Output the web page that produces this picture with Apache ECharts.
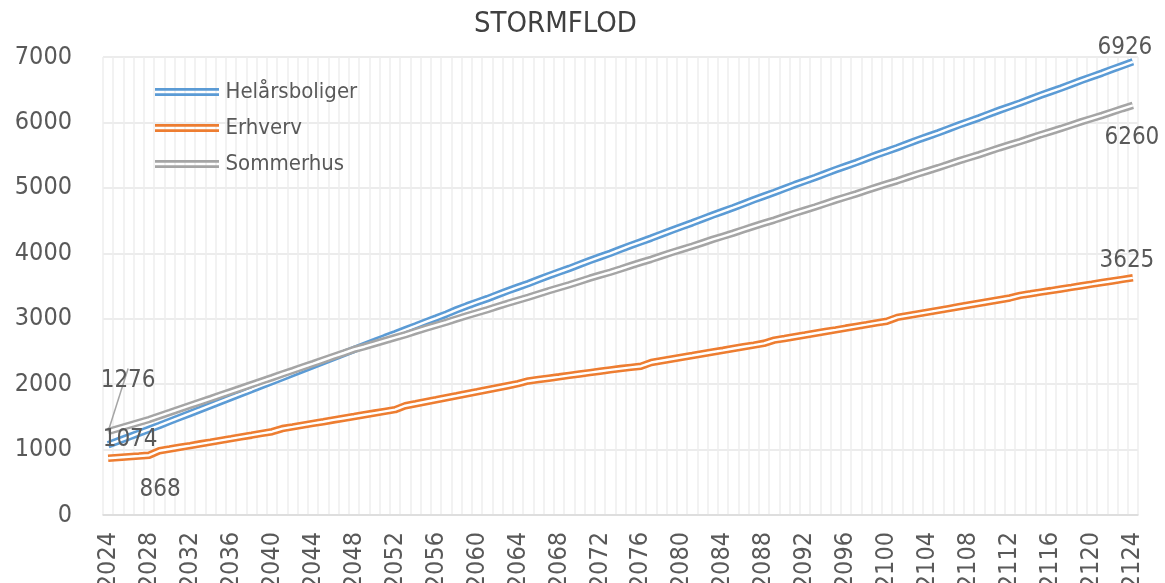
<!DOCTYPE html>
<html>
<head>
<meta charset="utf-8">
<title>Stormflod</title>
<script src="https://cdn.jsdelivr.net/npm/echarts@6/dist/echarts.min.js"></script>
<style>
html, body { margin: 0; padding: 0; background: #fff; }
#chart { width: 1165px; height: 583px; }
</style>
</head>
<body>
<div id="chart"></div>
<script>
// years on the category axis
var years = [
    '2024', '2025', '2026', '2027', '2028', '2029', '2030', '2031', '2032', '2033',
    '2034', '2035', '2036', '2037', '2038', '2039', '2040', '2041', '2042', '2043',
    '2044', '2045', '2046', '2047', '2048', '2049', '2050', '2051', '2052', '2053',
    '2054', '2055', '2056', '2057', '2058', '2059', '2060', '2061', '2062', '2063',
    '2064', '2065', '2066', '2067', '2068', '2069', '2070', '2071', '2072', '2073',
    '2074', '2075', '2076', '2077', '2078', '2079', '2080', '2081', '2082', '2083',
    '2084', '2085', '2086', '2087', '2088', '2089', '2090', '2091', '2092', '2093',
    '2094', '2095', '2096', '2097', '2098', '2099', '2100', '2101', '2102', '2103',
    '2104', '2105', '2106', '2107', '2108', '2109', '2110', '2111', '2112', '2113',
    '2114', '2115', '2116', '2117', '2118', '2119', '2120', '2121', '2122', '2123',
    '2124'
];

var helaarsboliger = [
    1074, 1133, 1192, 1251, 1310, 1369, 1431, 1492, 1553, 1613,
    1675, 1736, 1797, 1857, 1918, 1980, 2040, 2101, 2163, 2224,
    2285, 2346, 2408, 2469, 2530, 2590, 2650, 2711, 2770, 2830,
    2890, 2951, 3010, 3070, 3136, 3196, 3252, 3307, 3367, 3427,
    3483, 3538, 3598, 3658, 3714, 3769, 3829, 3889, 3945, 4000,
    4060, 4120, 4176, 4232, 4292, 4352, 4409, 4465, 4525, 4585,
    4641, 4697, 4757, 4817, 4874, 4930, 4990, 5049, 5104, 5159,
    5218, 5277, 5332, 5387, 5446, 5505, 5559, 5614, 5673, 5732,
    5787, 5842, 5901, 5960, 6015, 6070, 6129, 6188, 6243, 6298,
    6357, 6416, 6471, 6526, 6585, 6644, 6699, 6754, 6813, 6870,
    6926
];

var erhverv = [
    868, 879, 890, 901, 914, 982, 1008, 1035, 1061, 1088,
    1114, 1141, 1167, 1194, 1220, 1247, 1273, 1321, 1347, 1374,
    1400, 1426, 1453, 1479, 1505, 1532, 1558, 1584, 1610, 1670,
    1700, 1731, 1761, 1792, 1822, 1853, 1883, 1914, 1945, 1976,
    2007, 2049, 2070, 2091, 2112, 2134, 2155, 2176, 2197, 2218,
    2238, 2256, 2274, 2330, 2357, 2384, 2411, 2437, 2464, 2491,
    2517, 2544, 2571, 2597, 2624, 2672, 2698, 2725, 2751, 2778,
    2804, 2830, 2857, 2883, 2909, 2936, 2962, 3020, 3047, 3074,
    3101, 3128, 3155, 3182, 3209, 3236, 3263, 3290, 3317, 3357,
    3381, 3406, 3430, 3455, 3479, 3504, 3528, 3553, 3577, 3601,
    3625
];

var sommerhus = [
    1276, 1322, 1368, 1414, 1460, 1514, 1567, 1621, 1674, 1727,
    1780, 1834, 1887, 1940, 1994, 2047, 2100, 2155, 2208, 2262,
    2315, 2369, 2423, 2476, 2530, 2572, 2618, 2665, 2710, 2755,
    2805, 2854, 2900, 2946, 2996, 3045, 3091, 3137, 3187, 3236,
    3282, 3328, 3378, 3427, 3473, 3519, 3569, 3619, 3665, 3710,
    3760, 3812, 3860, 3908, 3960, 4012, 4060, 4108, 4160, 4212,
    4260, 4308, 4360, 4412, 4460, 4508, 4560, 4612, 4660, 4708,
    4760, 4812, 4860, 4908, 4960, 5012, 5060, 5108, 5160, 5212,
    5260, 5308, 5360, 5412, 5460, 5508, 5560, 5612, 5660, 5708,
    5760, 5812, 5860, 5908, 5960, 6012, 6060, 6108, 6160, 6212,
    6260
];

var yTicks = [0, 1000, 2000, 3000, 4000, 5000, 6000, 7000];

var FONT = "'Liberation Sans Narrow', 'DejaVu Sans Condensed', 'Open Sans', sans-serif";
var TXT = '#595959';

function valueLabel(offset) {
    return {
        show: true,
        position: 'inside',
        offset: offset,
        formatter: '{c}',
        fontFamily: FONT,
        fontSize: 24,
        color: TXT
    };
}

// put a label on the first and last point only
function withLabels(values, firstLabel, lastLabel, lastNoLine) {
    return values.map(function (v, i) {
        if (i === 0) return { value: v, label: firstLabel };
        if (i === values.length - 1) {
            var item = { value: v, label: lastLabel };
            if (lastNoLine) item.labelLine = { show: false };
            return item;
        }
        return v;
    });
}

// excel style double line: a wide coloured line with a thin white one on top
function doubleLine(name, values, color, data, extra) {
    var outer = {
        name: name,
        type: 'line',
        data: data,
        symbol: 'circle',
        symbolSize: 0,
        showAllSymbol: true,
        lineStyle: { color: color, width: 7.5 },
        itemStyle: { color: color },
        emphasis: { disabled: true },
        label: { show: false }
    };
    if (extra) Object.assign(outer, extra);
    var inner = {
        name: name + ' ',
        type: 'line',
        data: values,
        symbol: 'none',
        silent: true,
        lineStyle: { color: '#ffffff', width: 2.4 },
        emphasis: { disabled: true }
    };
    return [outer, inner];
}

var dblIcon = 'path://M0,0H60V2.5H0Z M0,5H60V7.5H0Z';

var chart = echarts.init(document.getElementById('chart'));

var series = [].concat(
    doubleLine('Helårsboliger', helaarsboliger, '#5b9bd5',
        withLabels(helaarsboliger, valueLabel([22, -5]), valueLabel([-8, -14]))),
    doubleLine('Erhverv', erhverv, '#ed7d31',
        withLabels(erhverv, valueLabel([52, 32]), valueLabel([-6, -17]))),
    doubleLine('Sommerhus', sommerhus, '#a5a5a5',
        withLabels(sommerhus, valueLabel([0, 0]), valueLabel([0, 0]), true), {
            labelLine: { show: true, lineStyle: { color: '#a5a5a5', width: 1.5 } },
            labelLayout: function (params) {
                if (params.dataIndex === 0) return { dx: 20, dy: -51 };
                return { dx: -1, dy: 32 };
            }
        })
);

var option = {
    animation: false,
    backgroundColor: '#ffffff',
    title: {
        text: 'STORMFLOD',
        left: 469,
        top: 5,
        textStyle: { fontFamily: FONT, fontSize: 29, fontWeight: 'normal', color: '#404040' }
    },
    legend: {
        data: [
            { name: 'Helårsboliger', icon: dblIcon },
            { name: 'Erhverv', icon: dblIcon },
            { name: 'Sommerhus', icon: dblIcon }
        ],
        orient: 'vertical',
        left: 150,
        top: 76,
        itemWidth: 67,
        itemHeight: 8,
        itemGap: 14,
        selectedMode: false,
        textStyle: { fontFamily: FONT, fontSize: 22, color: TXT }
    },
    grid: {
        left: 103,
        right: 27,
        top: 57,
        bottom: 68,
        containLabel: false,
        outerBoundsMode: 'none'
    },
    xAxis: {
        type: 'category',
        data: years,
        boundaryGap: true,
        axisLine: { lineStyle: { color: '#d9d9d9', width: 1.5 } },
        axisTick: { show: false },
        axisLabel: {
            interval: 3,
            rotate: 90,
            margin: 17,
            fontFamily: FONT,
            fontSize: 25,
            color: TXT
        },
        splitLine: { show: true, interval: 0, lineStyle: { color: '#eeeeee', width: 1.5 } }
    },
    yAxis: {
        type: 'value',
        min: yTicks[0],
        max: yTicks[yTicks.length - 1],
        interval: yTicks[1] - yTicks[0],
        axisLine: { show: false },
        axisTick: { show: false },
        axisLabel: {
            margin: 31,
            fontFamily: FONT,
            fontSize: 25,
            color: TXT,
            formatter: function (v) { return String(v); }
        },
        splitLine: { lineStyle: { color: '#e6e6e6', width: 1.5 } }
    },
    series: series
};

chart.setOption(option);
</script>
</body>
</html>
